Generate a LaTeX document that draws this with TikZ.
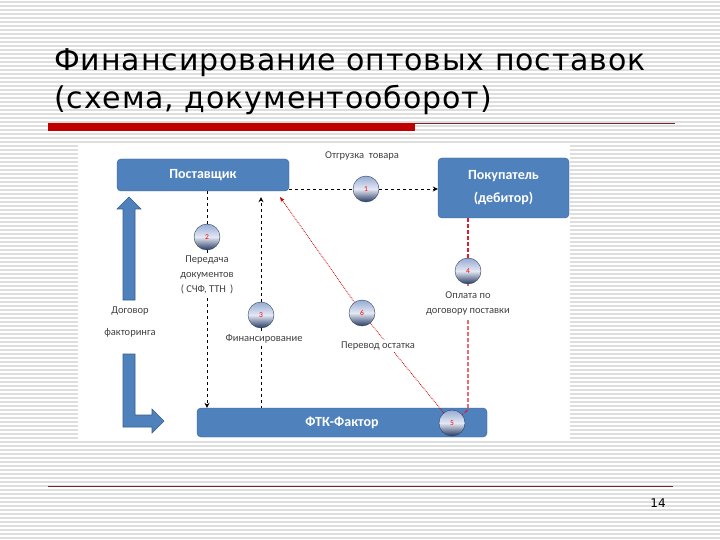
\documentclass[tikz,border=0pt]{standalone}
\usepackage{fontspec}
\setmainfont{Carlito}
\newfontfamily\titlefont{DejaVu Sans}[LetterSpace=3]
\newfontfamily\pagefont{DejaVu Sans}
\usepackage{tikz}
\usetikzlibrary{positioning, arrows.meta, shapes.geometric}

\definecolor{boxblue}{RGB}{79,129,189}
\definecolor{boxedge}{RGB}{56,93,138}
\definecolor{stripe}{RGB}{222,222,222}
\definecolor{barred}{RGB}{192,0,0}
\definecolor{rulered}{RGB}{110,40,50}
\definecolor{balltop}{RGB}{150,170,210}
\definecolor{ballmid}{RGB}{228,232,244}
\definecolor{ballbot}{RGB}{38,58,98}
\definecolor{labelgray}{RGB}{64,64,64}
\definecolor{dashred}{RGB}{222,30,40}

\begin{document}
\begin{tikzpicture}[x=1pt, y=-1pt,
    box/.style={rectangle, draw=boxedge, fill=boxblue, rounded corners=4pt, text=white, font=\bfseries\fontsize{14}{23}\selectfont, align=center, inner sep=0pt},
    ball/.style={circle, draw=boxedge!70!black, top color=balltop, bottom color=ballbot, middle color=ballmid, minimum size=26pt, inner sep=0pt, text=red, font=\fontsize{7.5}{8}\selectfont},
    lbl/.style={fill=white, text=labelgray, font=\fontsize{10.5}{15}\selectfont, align=center, inner sep=1.5pt},
    arrow/.style={-{Stealth[length=5pt, width=5pt]}, dashed, thick},
    dline/.style={dashed, thick},
    rline/.style={dash pattern=on 4pt off 2pt, very thick, dashred},
    rdot/.style={densely dotted, line width=0.8pt, red!80!black},
    rarrow/.style={-{Stealth[length=5pt, width=4pt]}, densely dotted, line width=0.8pt, red!80!black},
    bigarrow/.style={draw=boxedge, fill=boxblue, line width=0.6pt}
]

% Background
\useasboundingbox (0,0) rectangle (720,540);
\fill[white] (0,0) rectangle (720,540);
\foreach \y in {2,6,...,538}
    \draw[stripe, line width=1.3pt] (0,\y) -- (720,\y);
\fill[white] (78,144) rectangle (570,441);

% Title
\node[anchor=base west, inner sep=0pt, font=\titlefont\fontsize{30}{38}\selectfont] (title1) at (54,71) {Финансирование оптовых поставок};
\node[anchor=base west, inner sep=0pt, font=\titlefont\fontsize{30}{38}\selectfont] (title2) at (54,109) {(схема, документооборот)};
\fill[barred] (48,123) rectangle (415,131);
\draw[rulered, line width=0.8pt] (415,123.5) -- (675,123.5);

% Nodes
\node[box, minimum width=172pt, minimum height=32pt] (supplier) at (203,175) {Поставщик};
\node[box, minimum width=131pt, minimum height=60pt] (buyer) at (503.5,188) {Покупатель\\(дебитор)};
\node[box, minimum width=290pt, minimum height=29pt] (factor) at (342,422.5) {ФТК-Фактор};

\node[ball] (b1) at (366,189) {1};
\node[ball] (b2) at (207,237) {2};
\node[ball] (b3) at (261,315) {3};
\node[ball] (b4) at (468,271) {4};
\node[ball] (b5) at (452,423) {5};
\node[ball] (b6) at (362,313) {6};
\coordinate (tip6) at (280,197);

% Arrows
\draw[dline] (supplier.east |- b1) -- (b1);
\draw[arrow] (b1) -- (buyer.west |- b1);
\draw[dline] (supplier.south -| b2) -- (b2);
\draw[arrow] (b2) -- (factor.north -| b2);
\draw[arrow, shorten >=6pt] (b3) -- (supplier.south -| b3);
\draw[dline] (b3) -- (factor.north -| b3);
\draw[rline] (buyer.south -| b4) -- (b4);
\draw[rline] (b4) -- (b4 |- b5.north) -- (b5);
\draw[rdot] (b5) -- (b6);
\draw[rarrow] (b6) -- (tip6);

% Block arrows
\draw[bigarrow] (123,300) -- (123,209) -- (117,209) -- (129,197) -- (141,209) -- (135,209) -- (135,300) -- cycle;
\draw[bigarrow] (123,354) -- (135,354) -- (135,415) -- (152,415) -- (152,409) -- (164,421) -- (152,433) -- (152,427) -- (123,427) -- cycle;

% Labels
\node[lbl] (t1) at (362,156) {Отгрузка\ \ товара};
\node[lbl] (t2) at (207,275) {Передача\\документов\\( СЧФ, ТТН \,)};
\node[lbl] (t3) at (264,339) {Финансирование};
\node[lbl, inner ysep=5pt] (t4) at (468,303) {Оплата по\\договору поставки};
\node[lbl] (t6) at (378,346) {Перевод остатка};
\node[lbl] (t7) at (130,322) {Договор\\[7pt]факторинга};

% Footer
\draw[rulered, line width=1pt] (48,486) -- (673,486);
\node[font=\pagefont\fontsize{12}{14}\selectfont] (page) at (658,503) {14};

\end{tikzpicture}
\end{document}
